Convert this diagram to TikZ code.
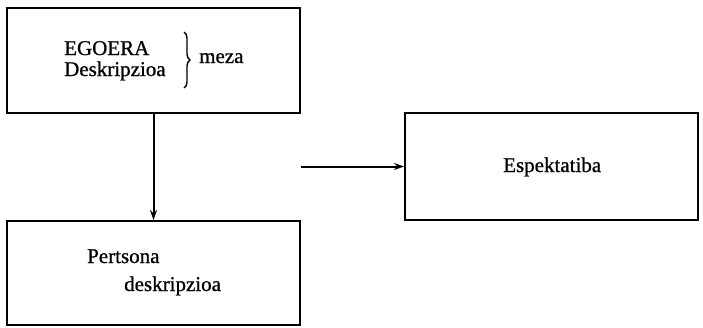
\documentclass[tikz,border=0pt]{standalone}
\usepackage{fontspec}
\setmainfont{Liberation Serif}
\newfontfamily\lblfont[FakeBold=0.8]{Liberation Serif}
\usetikzlibrary{arrows.meta,decorations.pathreplacing}
\begin{document}
\begin{tikzpicture}[x=1pt,y=-1pt,
  box/.style={draw, line width=2pt, rectangle, inner sep=0pt},
  lbl/.style={inner sep=0pt, anchor=base west, font=\lblfont\fontsize{21}{24}\selectfont},
  conn/.style={line width=2pt, -{Stealth[length=10pt,width=7pt]}}]
\useasboundingbox (0,0) rectangle (703,327);
\node[box, minimum width=293pt, minimum height=105pt] (egoera) at (153.5,60.5) {};
\node[box, minimum width=293pt, minimum height=104pt] (pertsona) at (153.5,273) {};
\node[box, minimum width=293pt, minimum height=107pt] (espek) at (551.5,166.5) {};
\node[lbl] (t1) at (64,55) {EGOERA};
\node[lbl] (t2) at (64,76) {Deskripzioa};
\node[lbl] (t3) at (199,63) {meza};
\node[lbl] (t4) at (87,263) {Pertsona};
\node[lbl] (t5) at (124,291) {deskripzioa};
\node[lbl] (t6) at (503,172) {Espektatiba};
\coordinate (bt) at (184,32);
\coordinate (bb) at (184,88);
\draw[line width=1.4pt, decoration={brace,amplitude=6pt}, decorate] (bt) -- (bb);
\coordinate (hs) at (301,166.5);
\draw[conn] (egoera.south) -- (pertsona.north);
\draw[conn] (hs) -- (espek.west);
\end{tikzpicture}
\end{document}
